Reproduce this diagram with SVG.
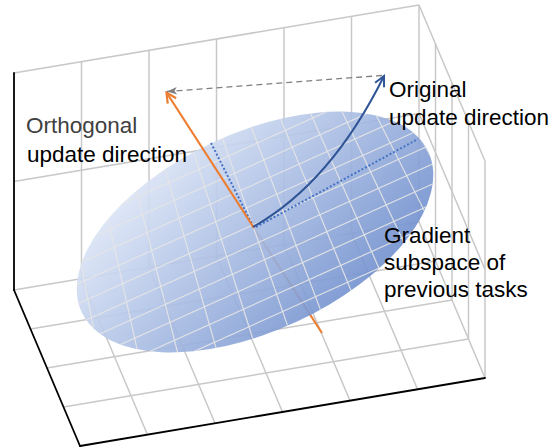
<svg xmlns="http://www.w3.org/2000/svg" width="559" height="447" viewBox="0 0 559 447">
<style>
.g{stroke:#c8c8c8;stroke-width:1.5;fill:none}
.k{stroke:#000;stroke-width:1.8;fill:none;stroke-linecap:round}
.eg{stroke:#e6e6e6;stroke-width:1.2;fill:none;opacity:0.9}
.t{font-family:"Liberation Sans",Arial,sans-serif;font-size:22.5px;fill:#000}
.dot{stroke:#4472c4;stroke-width:2;stroke-dasharray:2 2;fill:none}
</style>
<defs>
<linearGradient id="eGrad" gradientUnits="userSpaceOnUse" x1="200" y1="110" x2="300" y2="345">
<stop offset="0" stop-color="#e1e9f8"/>
<stop offset="1" stop-color="#7190ce"/>
</linearGradient>
<clipPath id="eClip"><ellipse cx="255" cy="232" rx="191" ry="99" transform="rotate(-24.8 255 232)"/></clipPath>
<marker id="aO" markerUnits="userSpaceOnUse" viewBox="-13 -7 15 14" refX="0" refY="0" markerWidth="15" markerHeight="14" orient="auto"><path d="M-10,-5 L0,0 L-10,5" fill="none" stroke="#ed7d31" stroke-width="2.2"/></marker>
<marker id="aB" markerUnits="userSpaceOnUse" viewBox="-13 -7 15 14" refX="0" refY="0" markerWidth="15" markerHeight="14" orient="auto"><path d="M-10,-5 L0,0 L-10,5" fill="none" stroke="#2f5597" stroke-width="2"/></marker>
<marker id="aG" markerUnits="userSpaceOnUse" viewBox="-12 -6 13 12" refX="0" refY="0" markerWidth="13" markerHeight="12" orient="auto"><path d="M0,0 L-10,-3.8 L-7.5,0 L-10,3.8 Z" fill="#7f7f7f"/></marker>
</defs>
<rect width="559" height="447" fill="#fff"/>
<g id="box">
<g id="back-wall">
<line class="g" x1="14" y1="73" x2="419" y2="5"/>
<line class="g" x1="14" y1="181.5" x2="419" y2="113.5"/>
<line class="g" x1="14" y1="290" x2="419" y2="222"/>
<line class="g" x1="81.5" y1="61.67" x2="81.5" y2="278.67"/>
<line class="g" x1="149" y1="50.33" x2="149" y2="267.33"/>
<line class="g" x1="216.5" y1="39" x2="216.5" y2="256"/>
<line class="g" x1="284" y1="27.67" x2="284" y2="244.67"/>
<line class="g" x1="351.5" y1="16.33" x2="351.5" y2="233.33"/>
<line class="g" x1="419" y1="5" x2="419" y2="222"/>
</g>
<g id="right-wall">
<line class="g" x1="419" y1="5" x2="485" y2="161"/>
<line class="g" x1="419" y1="113.5" x2="485" y2="269.5"/>
<line class="g" x1="419" y1="222" x2="485" y2="378"/>
<line class="g" x1="435.5" y1="44" x2="435.5" y2="261"/>
<line class="g" x1="452" y1="83" x2="452" y2="300"/>
<line class="g" x1="468.5" y1="122" x2="468.5" y2="339"/>
<line class="g" x1="485" y1="161" x2="485" y2="378"/>
</g>
<g id="floor">
<line class="g" x1="30.5" y1="329" x2="435.5" y2="261"/>
<line class="g" x1="47" y1="368" x2="452" y2="300"/>
<line class="g" x1="63.5" y1="407" x2="468.5" y2="339"/>
<line class="g" x1="81.5" y1="278.67" x2="147.5" y2="434.67"/>
<line class="g" x1="149" y1="267.33" x2="215" y2="423.33"/>
<line class="g" x1="216.5" y1="256" x2="282.5" y2="412"/>
<line class="g" x1="284" y1="244.67" x2="350" y2="400.67"/>
<line class="g" x1="351.5" y1="233.33" x2="417.5" y2="389.33"/>
</g>
<g id="edges">
<line class="k" x1="14" y1="73" x2="14" y2="290"/>
<line class="k" x1="14" y1="290" x2="80" y2="446"/>
<line class="k" x1="80" y1="446" x2="485" y2="378"/>
</g>
</g>
<g id="connectors-under">
<line x1="254" y1="228" x2="322" y2="333" stroke="#ed7d31" stroke-width="2.2"/>
</g>
<g id="subspace">
<ellipse cx="255" cy="232" rx="191" ry="99" transform="rotate(-24.8 255 232)" fill="url(#eGrad)" fill-opacity="0.91"/>
<g clip-path="url(#eClip)">
<path class="eg" d="M49.7,100L99.5,360M81.6,100L139.5,360M113.4,100L179.5,360M145.3,100L219.5,360M177.2,100L259.5,360M209.1,100L299.5,360M241,100L339.5,360M272.8,100L379.5,360M304.7,100L419.5,360M336.6,100L459.5,360M368.5,100L499.5,360M400.4,100L539.5,360"/>
<path class="eg" d="M60,231.75L450,56.25M60,251.75L450,76.25M60,271.75L450,96.25M60,291.75L450,116.25M60,311.75L450,136.25M60,331.75L450,156.25M60,351.75L450,176.25M60,371.75L450,196.25M60,391.75L450,216.25M60,411.75L450,236.25"/>
</g>
</g>
<g id="connectors">
<line class="dot" x1="211" y1="143" x2="253" y2="226"/>
<line class="dot" x1="256" y1="227" x2="418" y2="139"/>
<line x1="254" y1="228" x2="166.5" y2="92.5" stroke="#ed7d31" stroke-width="2.2" marker-end="url(#aO)"/>
<path d="M253,227 Q331,183 384,76" fill="none" stroke="#2f5597" stroke-width="2" marker-end="url(#aB)"/>
<line x1="382" y1="75.5" x2="167" y2="91.5" stroke="#7f7f7f" stroke-width="1.3" stroke-dasharray="6 4" marker-end="url(#aG)"/>
</g>
<g id="label-orthogonal">
<text class="t" x="26" y="133" style="fill:#404040">Orthogonal</text>
<text class="t" x="27" y="162">update direction</text>
</g>
<g id="label-original">
<text class="t" x="389" y="97">Original</text>
<text class="t" x="389" y="125">update direction</text>
</g>
<g id="label-gradient">
<text class="t" x="384" y="243">Gradient</text>
<text class="t" x="384" y="270">subspace of</text>
<text class="t" x="384" y="297">previous tasks</text>
</g>
</svg>
